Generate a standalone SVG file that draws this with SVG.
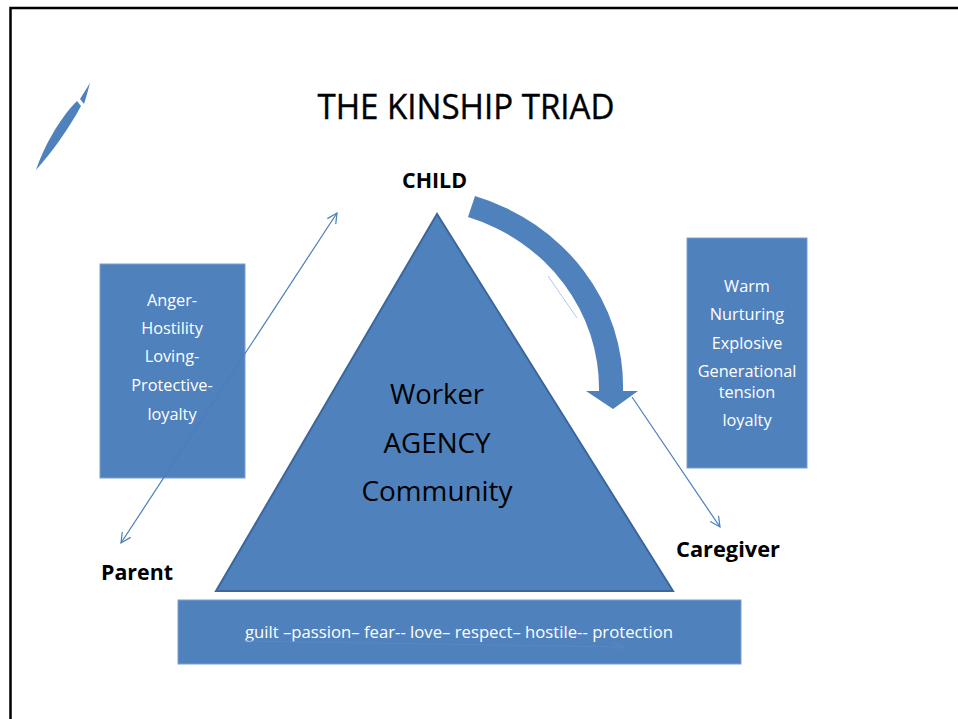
<svg xmlns="http://www.w3.org/2000/svg" width="958" height="719" viewBox="0 0 958 719">
<style>
.box{fill:#4F81BD;stroke:#7A9FD0;stroke-width:1}
.wt{font-family:"Open Sans","Liberation Sans",sans-serif;font-size:16.3px;fill:#FFFFFF;text-anchor:middle}
.lbl{font-family:"Open Sans","Liberation Sans",sans-serif;font-size:21px;font-weight:bold;fill:#000;}
.tri{font-family:"Open Sans","Liberation Sans",sans-serif;font-size:27px;fill:#000;text-anchor:middle}
.thin{fill:none;stroke:#4A7EBB;stroke-width:1.2}
</style>
<defs>
<marker id="open" viewBox="0 0 12 12" refX="11" refY="6" markerWidth="12" markerHeight="12" markerUnits="userSpaceOnUse" orient="auto-start-reverse">
<path d="M1,1 L11,6 L1,11" fill="none" stroke="#4A7EBB" stroke-width="1.2"/>
</marker>
<marker id="openl" viewBox="0 0 12 12" refX="11" refY="6" markerWidth="12" markerHeight="12" markerUnits="userSpaceOnUse" orient="auto">
<path d="M1,1 L11,6 L1,11" fill="none" stroke="#5888C5" stroke-width="1"/>
</marker>
</defs>
<rect width="958" height="719" fill="#FFFFFF"/>
<path d="M10.5,719 L10.5,8 L958,8" fill="none" stroke="#000" stroke-width="2.5"/>
<g id="logo" fill="#4F81BD">
<path d="M36,170 C44,146 60,118 77,101 L81,106 C68,130 52,152 36,170 Z"/>
<path d="M80,99 L90,83 C88,90 86,98 84,104 Z"/>
</g>
<text id="title" x="466" y="119" font-family="'Open Sans','Liberation Sans',sans-serif" font-size="34" font-weight="500" fill="#000" stroke="#000" stroke-width="0.4" text-anchor="middle" textLength="297" lengthAdjust="spacingAndGlyphs">THE KINSHIP TRIAD</text>
<g id="triangle">
<polygon points="437,214 216,591 673,591" fill="#4F81BD" stroke="#3C679A" stroke-width="2"/>
<text class="tri" x="437" y="404" textLength="94" lengthAdjust="spacingAndGlyphs">Worker</text>
<text class="tri" x="437" y="453" textLength="107" lengthAdjust="spacingAndGlyphs">AGENCY</text>
<text class="tri" x="437" y="501" textLength="151" lengthAdjust="spacingAndGlyphs">Community</text>
</g>
<g id="child"><text class="lbl" x="402" y="188" textLength="65" lengthAdjust="spacingAndGlyphs">CHILD</text></g>
<g id="parent"><text class="lbl" x="101" y="580" textLength="72" lengthAdjust="spacingAndGlyphs">Parent</text></g>
<g id="caregiver"><text class="lbl" x="676" y="557" textLength="104" lengthAdjust="spacingAndGlyphs">Caregiver</text></g>
<g id="leftbox">
<rect class="box" x="100" y="264" width="145" height="214"/>
<text class="wt" x="172" y="306">Anger-</text>
<text class="wt" x="172" y="334">Hostility</text>
<text class="wt" x="172" y="362">Loving-</text>
<text class="wt" x="172" y="391">Protective-</text>
<text class="wt" x="172" y="420">loyalty</text>
</g>
<g id="rightbox">
<rect class="box" x="687" y="238" width="120" height="230"/>
<text class="wt" x="747" y="292">Warm</text>
<text class="wt" x="747" y="320">Nurturing</text>
<text class="wt" x="747" y="349">Explosive</text>
<text class="wt" x="747" y="377">Generational</text>
<text class="wt" x="747" y="398">tension</text>
<text class="wt" x="747" y="426">loyalty</text>
</g>
<g id="bottombar">
<rect class="box" x="178" y="600" width="563" height="64"/>
<text class="wt" x="459" y="638" textLength="428" lengthAdjust="spacingAndGlyphs">guilt –passion– fear--  love– respect– hostile-- protection</text>
</g>
<g id="connectors">
<path d="M475,196 A213,200 0 0 1 623,391 L638,391 L613,409 L586,391 L599,391 A189,180 0 0 0 468,217 Z" fill="#4F81BD"/>
<line x1="548" y1="276" x2="577" y2="318" stroke="#9DB9E0" stroke-width="0.8"/>
<line class="thin" x1="632" y1="397" x2="720" y2="527" marker-end="url(#open)"/>
<line class="thin" x1="121" y1="543" x2="337" y2="213" marker-start="url(#open)" marker-end="url(#open)"/>
<line x1="243" y1="641" x2="623" y2="647" stroke="#5888C5" stroke-width="1" marker-end="url(#openl)"/>
</g>
</svg>
